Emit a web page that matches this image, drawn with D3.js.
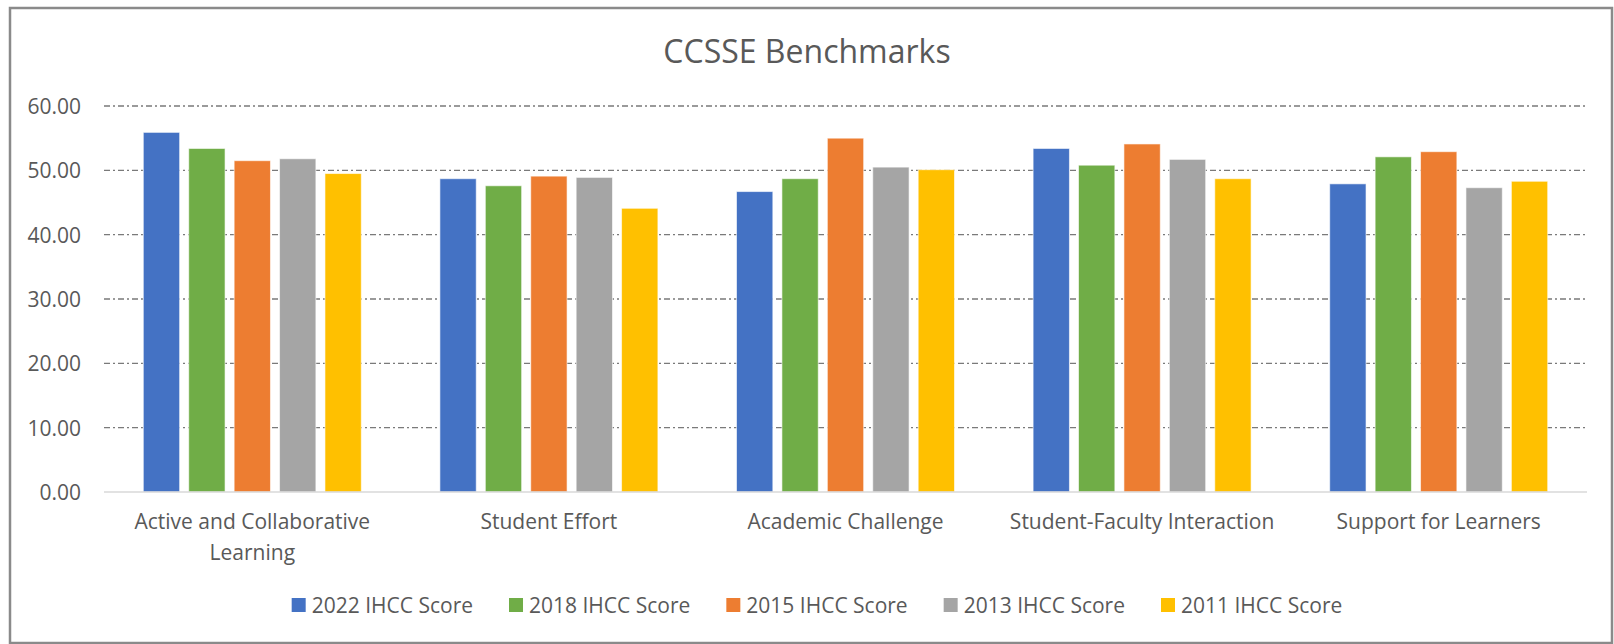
<!DOCTYPE html>
<html>
<head>
<meta charset="utf-8">
<script src="https://cdn.jsdelivr.net/npm/d3@7"></script>
<style>
  body { margin: 0; background: #fff; }
  text { font-family: "Open Sans", sans-serif; fill: #595959; }
</style>
</head>
<body>
<script>
var w = 1614;
var h = 644;

// chart data
var categories = ["Active and Collaborative Learning", "Student Effort", "Academic Challenge", "Student-Faculty Interaction", "Support for Learners"];
var seriesNames = ["2022 IHCC Score", "2018 IHCC Score", "2015 IHCC Score", "2013 IHCC Score", "2011 IHCC Score"];
var score2022 = [55.9, 48.7, 46.7, 53.4, 47.9];
var score2018 = [53.4, 47.6, 48.7, 50.8, 52.1];
var score2015 = [51.5, 49.1, 55.0, 54.1, 52.9];
var score2013 = [51.8, 48.9, 50.5, 51.7, 47.3];
var score2011 = [49.5, 44.1, 50.1, 48.7, 48.3];
var yTicks = [0, 10, 20, 30, 40, 50, 60];

var colors = ["#4472C4", "#70AD47", "#ED7D31", "#A5A5A5", "#FFC000"];
var seriesValues = [score2022, score2018, score2015, score2013, score2011];

var margin = {left: 104, right: 27, top: 106, bottom: 152};

var svg = d3.select("body").append("svg").attr("width", w).attr("height", h);

// outer frame
svg.append("rect")
    .attr("x", 10).attr("y", 8)
    .attr("width", w - 12).attr("height", h - 9)
    .style("fill", "none")
    .style("stroke", "#8a8a8a")
    .style("stroke-width", 2.5);

svg.append("text")
    .attr("x", w / 2)
    .attr("y", 63)
    .attr("text-anchor", "middle")
    .style("font-size", "32px")
    .text("CCSSE Benchmarks");

var x0 = d3.scaleBand()
    .domain(categories)
    .range([margin.left, w - margin.right])
    .paddingInner(0.265)
    .paddingOuter(0.1325);

var x1 = d3.scaleBand()
    .domain(seriesNames)
    .range([0, x0.bandwidth()])
    .paddingInner(0.2)
    .paddingOuter(0);

var y = d3.scaleLinear()
    .domain([0, 60])
    .range([h - margin.bottom, margin.top]);

// gridlines
svg.selectAll("line.grid")
    .data(yTicks.filter(function (d) { return d > 0; }))
    .enter()
    .append("line")
    .attr("class", "grid")
    .attr("x1", margin.left)
    .attr("x2", w - margin.right)
    .attr("y1", function (d) { return y(d); })
    .attr("y2", function (d) { return y(d); })
    .style("stroke", "#7a7a7a")
    .style("stroke-width", 1.3)
    .style("stroke-dasharray", "6,3,2,3");

// y axis
var yAxis = svg.append("g")
    .attr("transform", "translate(" + margin.left + ",0)")
    .call(d3.axisLeft(y).tickValues(yTicks).tickFormat(d3.format(".2f")).tickSize(0).tickPadding(23));
yAxis.select(".domain").remove();
yAxis.selectAll("text")
    .style("font-size", "21px")
    .style("fill", "#595959")
    .attr("dy", "0.36em");

// bars
var rows = categories.map(function (c, i) {
    return {cat: c, vals: seriesNames.map(function (s, j) { return {name: s, value: seriesValues[j][i], color: colors[j]}; })};
});

var groups = svg.selectAll("g.cat")
    .data(rows)
    .enter()
    .append("g")
    .attr("class", "cat")
    .attr("transform", function (d) { return "translate(" + x0(d.cat) + ",0)"; });

groups.selectAll("rect")
    .data(function (d) { return d.vals; })
    .enter()
    .append("rect")
    .attr("x", function (d) { return x1(d.name); })
    .attr("y", function (d) { return y(d.value); })
    .attr("width", x1.bandwidth())
    .attr("height", function (d) { return y(0) - y(d.value); })
    .style("fill", function (d) { return d.color; })
    .style("stroke", "#ffffff")
    .style("stroke-opacity", 0.6)
    .style("stroke-width", 1);

// baseline
svg.append("line")
    .attr("x1", margin.left)
    .attr("x2", w - margin.right)
    .attr("y1", y(0))
    .attr("y2", y(0))
    .style("stroke", "#d9d9d9")
    .style("stroke-width", 1.5);

// x axis labels, wrapped to the category width
var xAxis = svg.append("g")
    .attr("transform", "translate(0," + y(0) + ")")
    .call(d3.axisBottom(x0).tickSize(0).tickPadding(0));
xAxis.select(".domain").remove();
xAxis.selectAll("text")
    .style("font-size", "21px")
    .style("fill", "#595959")
    .attr("y", 37)
    .attr("dy", 0)
    .each(function () { wrap(d3.select(this), x0.step() - 10); });

function wrap(text, width) {
    var words = text.text().split(/\s+/);
    var line = [];
    var lineNo = 0;
    var yy = text.attr("y");
    text.text(null);
    var tspan = text.append("tspan").attr("x", 0).attr("y", yy);
    words.forEach(function (word) {
        line.push(word);
        tspan.text(line.join(" "));
        if (tspan.node().getComputedTextLength() > width && line.length > 1) {
            line.pop();
            tspan.text(line.join(" "));
            line = [word];
            lineNo++;
            tspan = text.append("tspan").attr("x", 0).attr("y", +yy + lineNo * 31).text(word);
        }
    });
}

// legend
var legend = svg.append("g");
var items = legend.selectAll("g")
    .data(seriesNames)
    .enter()
    .append("g");
items.append("rect")
    .attr("width", 14)
    .attr("height", 14)
    .attr("y", 598)
    .style("fill", function (d, i) { return colors[i]; });
items.append("text")
    .attr("x", 20)
    .attr("y", 613)
    .style("font-size", "21px")
    .text(function (d) { return d; });

var xpos = 0;
items.each(function () {
    var g = d3.select(this);
    g.attr("transform", "translate(" + xpos + ",0)");
    xpos += 20 + g.select("text").node().getComputedTextLength() + 36;
});
var legendWidth = xpos - 36;
legend.attr("transform", "translate(" + (w / 2 + 10 - legendWidth / 2) + ",0)");
</script>
</body>
</html>
